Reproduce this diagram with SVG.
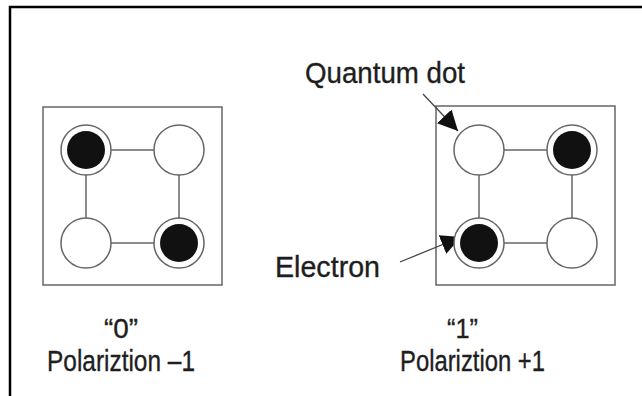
<svg xmlns="http://www.w3.org/2000/svg" width="642" height="396" viewBox="0 0 642 396">
<style>
.box{fill:#fff;stroke:#666;stroke-width:1.5}
.dot{fill:#fff;stroke:#666;stroke-width:1.5}
.e{fill:#111}
.link{stroke:#666;stroke-width:1.5;fill:none}
.ptr{stroke:#444;stroke-width:1.3;fill:none;marker-end:url(#ah)}
.t{font-family:"Liberation Sans",Arial,sans-serif;font-size:30px;fill:#1e1e1e;stroke:#1e1e1e;stroke-width:0.35}
.q{font-size:28px}
.p{font-size:29px}
</style>
<defs>
<marker id="ah" markerUnits="userSpaceOnUse" markerWidth="20" markerHeight="20" refX="20" refY="10" orient="auto" viewBox="0 0 20 20">
<path d="M0,0 L20,10 L0,20 z" fill="#111"/>
</marker>
</defs>
<rect width="642" height="396" fill="#fff"/>
<path d="M10,396 V7 H642" fill="none" stroke="#000" stroke-width="2.5"/>

<g id="cell0">
<rect class="box" x="43" y="107" width="179" height="178"/>
</g>
<g id="cell1">
<rect class="box" x="436" y="106" width="179" height="179"/>
</g>

<g id="connectors">
<line class="link" x1="111" y1="150" x2="154" y2="150"/>
<line class="link" x1="111" y1="243" x2="154" y2="243"/>
<line class="link" x1="86" y1="175" x2="86" y2="218"/>
<line class="link" x1="179" y1="175" x2="179" y2="218"/>
<line class="link" x1="504" y1="150" x2="547" y2="150"/>
<line class="link" x1="504" y1="243" x2="547" y2="243"/>
<line class="link" x1="479" y1="175" x2="479" y2="218"/>
<line class="link" x1="572" y1="175" x2="572" y2="218"/>
<line class="ptr" x1="423" y1="94" x2="458" y2="131"/>
<line class="ptr" x1="400" y1="262" x2="461" y2="237"/>
</g>

<g id="dot0a"><circle class="dot" cx="86" cy="150" r="25"/><circle class="e" cx="86" cy="150" r="19"/></g>
<g id="dot0b"><circle class="dot" cx="179" cy="150" r="25"/></g>
<g id="dot0c"><circle class="dot" cx="86" cy="243" r="25"/></g>
<g id="dot0d"><circle class="dot" cx="179" cy="243" r="25"/><circle class="e" cx="179" cy="243" r="19"/></g>

<g id="dot1a"><circle class="dot" cx="479" cy="150" r="25"/></g>
<g id="dot1b"><circle class="dot" cx="572" cy="150" r="25"/><circle class="e" cx="572" cy="150" r="19"/></g>
<g id="dot1c"><circle class="dot" cx="479" cy="243" r="25"/><circle class="e" cx="479" cy="243" r="19"/></g>
<g id="dot1d"><circle class="dot" cx="572" cy="243" r="25"/></g>

<g id="label-quantum-dot"><text class="t" x="305" y="83" textLength="160" lengthAdjust="spacingAndGlyphs">Quantum dot</text></g>
<g id="label-electron"><text class="t" x="275" y="277" textLength="105" lengthAdjust="spacingAndGlyphs">Electron</text></g>
<g id="label-0">
<text class="t q" x="104" y="338" textLength="34" lengthAdjust="spacingAndGlyphs">“0”</text>
<text class="t p" x="47" y="371" textLength="148" lengthAdjust="spacingAndGlyphs">Polariztion –1</text>
</g>
<g id="label-1">
<text class="t q" x="447" y="338" textLength="31" lengthAdjust="spacingAndGlyphs">“1”</text>
<text class="t p" x="400" y="371" textLength="145" lengthAdjust="spacingAndGlyphs">Polariztion +1</text>
</g>
</svg>
